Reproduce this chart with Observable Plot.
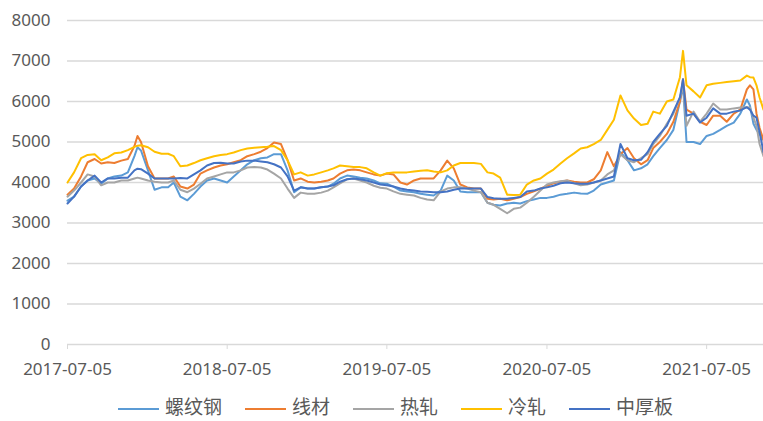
<!DOCTYPE html>
<html>
<head>
<meta charset="utf-8">
<script src="https://cdn.jsdelivr.net/npm/d3@7"></script>
<script src="https://cdn.jsdelivr.net/npm/@observablehq/plot@0.6"></script>
<style>
  html, body { margin: 0; padding: 0; background: #fff; }
  #wrap { position: relative; width: 763px; height: 421px; overflow: hidden; }
  #legend { position: absolute; top: 392px; left: 118px; display: flex; align-items: center; height: 28px;
    font-family: "Noto Sans CJK SC", sans-serif; font-size: 19px; line-height: 28px; color: #595959; }
  .item { display: flex; align-items: center; margin-right: 23px; height: 28px; }
  .swatch { width: 41px; height: 2px; margin-right: 6px; position: relative; top: 3px; }
</style>
</head>
<body>
<div id="wrap"><div id="chart"></div><div id="legend"></div></div>
<script>
const dates = [
"2017-07-05","2017-07-20","2017-08-05","2017-08-20","2017-09-05","2017-09-20","2017-10-05","2017-10-20","2017-11-05","2017-11-20",
"2017-12-05","2017-12-12","2017-12-20","2018-01-05","2018-01-20","2018-02-05","2018-02-20","2018-03-05","2018-03-20","2018-04-05",
"2018-04-20","2018-05-05","2018-05-20","2018-06-05","2018-06-20","2018-07-05","2018-07-20","2018-08-05","2018-08-20","2018-09-05",
"2018-09-20","2018-10-05","2018-10-20","2018-11-05","2018-11-20","2018-12-05","2018-12-20","2019-01-05","2019-01-20","2019-02-05",
"2019-02-20","2019-03-05","2019-03-20","2019-04-05","2019-04-20","2019-05-05","2019-05-20","2019-06-05","2019-06-20","2019-07-05",
"2019-07-20","2019-08-05","2019-08-20","2019-09-05","2019-09-20","2019-10-05","2019-10-20","2019-11-05","2019-11-20","2019-12-05",
"2019-12-20","2020-01-05","2020-01-20","2020-02-05","2020-02-20","2020-03-05","2020-03-20","2020-04-05","2020-04-20","2020-05-05",
"2020-05-20","2020-06-05","2020-06-20","2020-07-05","2020-07-20","2020-08-05","2020-08-20","2020-09-05","2020-09-20","2020-10-05",
"2020-10-20","2020-11-05","2020-11-20","2020-12-05","2020-12-20","2021-01-05","2021-01-20","2021-02-05","2021-02-20","2021-03-05",
"2021-03-20","2021-04-05","2021-04-20","2021-05-05","2021-05-12","2021-05-20","2021-06-05","2021-06-20","2021-07-05","2021-07-20",
"2021-08-05","2021-08-20","2021-09-05","2021-09-20","2021-10-05","2021-10-12","2021-10-20","2021-10-27","2021-11-03","2021-11-12"];

// 螺纹钢
const rebar = [
3550,3650,3900,4050,4100,3970,4100,4150,4170,4250,
4650,4870,4790,4300,3820,3880,3880,4000,3650,3560,
3720,3900,4050,4100,4050,4000,4150,4300,4450,4550,
4600,4620,4700,4700,4300,3760,3880,3850,3850,3880,
3900,3970,4100,4170,4150,4120,4100,4050,3980,3970,
3900,3800,3780,3760,3720,3700,3680,3800,4170,4050,
3780,3760,3760,3760,3500,3450,3430,3480,3500,3480,
3540,3580,3620,3620,3650,3700,3720,3750,3730,3720,
3800,3950,4000,4050,4750,4550,4300,4350,4450,4650,
4850,5050,5300,6000,6400,5000,5000,4950,5150,5200,
5300,5400,5480,5700,6050,5900,5450,5300,5200,5050];

// 线材
const wire = [
3700,3850,4150,4500,4580,4470,4500,4480,4540,4580,
4900,5150,5000,4400,4100,4100,4100,4150,3900,3850,
3950,4220,4300,4370,4420,4450,4500,4550,4650,4700,
4760,4850,4990,4950,4550,4050,4100,4020,4000,4020,
4050,4100,4220,4300,4320,4300,4250,4200,4170,4220,
4200,4000,3950,4050,4100,4100,4100,4300,4540,4350,
3950,3880,3850,3850,3600,3580,3600,3560,3600,3640,
3720,3780,3850,3920,3980,4020,4050,4020,4000,4000,
4080,4300,4750,4400,4700,4850,4600,4450,4550,4850,
5000,5200,5500,6000,6550,5800,5700,5500,5420,5650,
5650,5500,5700,5800,6300,6400,6300,5700,5350,5050];

// 热轧
const hotRolled = [
3650,3800,4000,4200,4150,3930,4000,4000,4050,4050,
4100,4120,4100,4050,4020,4000,4000,4050,3820,3760,
3850,3970,4100,4150,4200,4250,4250,4300,4370,4380,
4370,4320,4220,4100,3850,3620,3750,3720,3720,3750,
3800,3880,3980,4080,4100,4050,4000,3920,3870,3850,
3780,3720,3700,3680,3620,3580,3560,3780,3850,3880,
3880,3850,3800,3760,3500,3450,3350,3240,3350,3380,
3500,3650,3800,3950,4000,4030,4050,3980,3930,3950,
4000,4050,4200,4300,4700,4550,4500,4600,4700,4950,
5150,5450,5700,6100,6400,5400,5750,5500,5700,5950,
5800,5800,5830,5850,5860,5850,5600,5400,4950,4650];

// 冷轧
const coldRolled = [
4000,4250,4600,4680,4700,4550,4620,4720,4740,4800,
4880,4910,4920,4870,4760,4710,4710,4650,4400,4420,
4480,4550,4600,4650,4680,4700,4740,4800,4840,4860,
4870,4880,4900,4800,4550,4200,4250,4170,4200,4250,
4300,4350,4420,4400,4380,4380,4350,4250,4170,4230,
4250,4250,4250,4270,4290,4300,4270,4250,4300,4420,
4480,4480,4480,4460,4250,4220,4120,3700,3690,3700,
3950,4050,4100,4220,4320,4470,4600,4720,4840,4870,
4950,5050,5300,5550,6150,5780,5580,5420,5450,5750,
5700,6000,6050,6600,7250,6400,6250,6100,6400,6440,
6460,6480,6500,6520,6640,6600,6590,6400,6100,5800];

// 中厚板
const plate = [
3480,3650,3900,4050,4170,4000,4100,4100,4120,4120,
4300,4340,4330,4220,4100,4100,4100,4100,4110,4100,
4200,4300,4420,4480,4490,4470,4470,4520,4540,4540,
4520,4500,4450,4370,4150,3800,3880,3850,3850,3880,
3900,3930,4020,4080,4100,4080,4050,4000,3950,3930,
3900,3850,3820,3800,3780,3770,3760,3760,3780,3820,
3850,3850,3850,3850,3640,3610,3600,3600,3620,3640,
3780,3800,3850,3880,3920,3980,4000,3980,3970,3970,
4000,4050,4100,4150,4950,4600,4550,4560,4750,5000,
5200,5400,5750,6100,6550,5650,5700,5480,5600,5830,
5700,5700,5750,5780,5860,5800,5650,5600,5250,4750];

const seriesNames = ["螺纹钢","线材","热轧","冷轧","中厚板"];
const seriesValues = [rebar, wire, hotRolled, coldRolled, plate];
const seriesColors = ["#5B9BD5","#ED7D31","#A5A5A5","#FFC000","#4472C4"];
const yTicks = [0,1000,2000,3000,4000,5000,6000,7000,8000];
const xTickLabels = ["2017-07-05","2018-07-05","2019-07-05","2020-07-05","2021-07-05"];
const xDomain = ["2017-07-05","2021-11-12"];

const parse = d3.utcParse("%Y-%m-%d");
const rows = seriesNames.flatMap((name, i) =>
  dates.map((d, j) => ({series: name, date: parse(d), value: seriesValues[i][j]})));

const chart = Plot.plot({
  width: 763,
  height: 390,
  marginLeft: 67,
  marginRight: 0,
  marginTop: 20,
  marginBottom: 46,
  style: {fontFamily: "'Noto Sans', sans-serif", background: "#fff"},
  x: {type: "utc", domain: xDomain.map(parse)},
  y: {domain: [0, 8000]},
  color: {domain: seriesNames, range: seriesColors},
  marks: [
    Plot.gridY(yTicks, {stroke: "#D9D9D9", strokeOpacity: 1, strokeWidth: 1.3}),
    Plot.axisY(yTicks, {tickSize: 0, tickPadding: 17, fontSize: 17, fill: "#595959", label: null,
      tickFormat: d => String(d)}),
    Plot.axisX(xTickLabels.map(parse), {tickSize: 5, tickPadding: 13, fontSize: 17, fill: "#595959",
      stroke: "#D9D9D9", strokeOpacity: 1, tickFormat: d3.utcFormat("%Y-%m-%d"), label: null}),
    Plot.lineY(rows, {x: "date", y: "value", z: "series", stroke: "series", strokeWidth: 2})
  ]
});
document.getElementById("chart").appendChild(chart);

const legend = document.getElementById("legend");
seriesNames.forEach((name, i) => {
  const item = document.createElement("div");
  item.className = "item";
  const sw = document.createElement("span");
  sw.className = "swatch";
  sw.style.background = seriesColors[i];
  const label = document.createElement("span");
  label.textContent = name;
  item.appendChild(sw);
  item.appendChild(label);
  legend.appendChild(item);
});
</script>
</body>
</html>
